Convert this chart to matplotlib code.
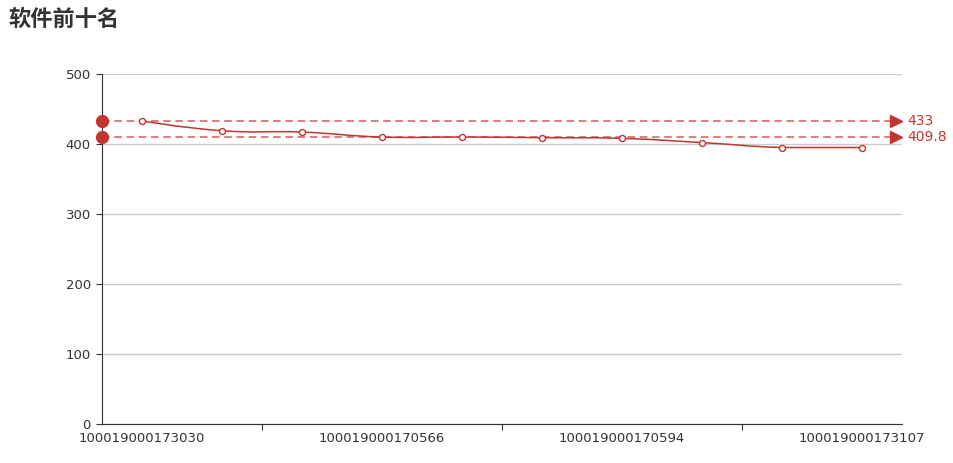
import matplotlib
matplotlib.use("Agg")
import matplotlib.pyplot as plt
import numpy as np
from matplotlib.path import Path
from matplotlib.patches import PathPatch

# data
software_ids = ["100019000173030", "", "", "100019000170566", "", "",
                "100019000170594", "", "", "100019000173107"]
scores = [433, 419, 417, 410, 410, 409, 408, 402, 395, 395]
y_ticks = [0, 100, 200, 300, 400, 500]

red = "#c23531"
dark = "#333333"

plt.rcParams['font.family'] = ['Noto Sans CJK SC', 'DejaVu Sans']

fig = plt.figure(figsize=(9.54, 4.63), dpi=100)
ax = fig.add_axes([102 / 954, 39 / 463, 800 / 954, 350 / 463])

x = np.arange(len(scores))
y = np.array(scores, dtype=float)

# smooth curve, echarts-like bezier (smooth=0.5), control points kept in data range
verts = [(x[0], y[0])]
codes = [Path.MOVETO]
n = len(x)
ymin, ymax = y.min(), y.max()
def ctrl(i):
    prev_i = max(i - 1, 0)
    next_i = min(i + 1, n - 1)
    vx = (x[next_i] - x[prev_i]) * 0.25
    vy = (y[next_i] - y[prev_i]) * 0.25
    a = (x[i] - vx, float(np.clip(y[i] - vy, ymin, ymax)))
    b = (x[i] + vx, float(np.clip(y[i] + vy, ymin, ymax)))
    return a, b
for i in range(n - 1):
    _, c1 = ctrl(i)
    c0, _ = ctrl(i + 1)
    if i == 0:
        c1 = (x[0], y[0])
    if i + 1 == n - 1:
        c0 = (x[n - 1], y[n - 1])
    verts += [c1, c0, (x[i + 1], y[i + 1])]
    codes += [Path.CURVE4] * 3
ax.add_patch(PathPatch(Path(verts, codes), facecolor="none", edgecolor=red, lw=1.1, zorder=3))
ax.plot(x, y, linestyle="none", marker="o", ms=4.3, mfc="white", mec=red, mew=1.0, zorder=4)

# mark lines: max and average
mx = max(scores)
avg = sum(scores) / len(scores)
for val in [mx, avg]:
    ax.plot([-0.5, 9.42], [val, val], color=red, alpha=0.8, lw=1.1,
            linestyle=(0, (5, 3)), clip_on=False, zorder=2)
    ax.plot([-0.5], [val], marker="o", ms=8.5, color=red, mec=red, clip_on=False, zorder=5)
    ax.plot([9.42], [val], marker=">", ms=9, color=red, mec=red, clip_on=False, zorder=5)
    ax.text(9.57, val, "%g" % round(val, 1), color=red, fontsize=10,
            family="DejaVu Sans", va="center", ha="left", clip_on=False)

ax.set_xlim(-0.5, len(scores) - 0.5)
ax.set_ylim(0, 500)
ax.set_yticks(y_ticks)
ax.yaxis.grid(True, color="#cccccc", lw=1)
ax.set_axisbelow(True)

# category ticks at boundaries, labels every 3rd category
ax.set_xticks([1.5, 4.5, 7.5])
ax.set_xticklabels([])
ax.set_xticks([0, 3, 6, 9], minor=True)
ax.set_xticklabels([software_ids[i] for i in [0, 3, 6, 9]], minor=True)
ax.tick_params(axis="x", which="major", length=4, color=dark, direction="out")
ax.tick_params(axis="x", which="minor", length=0, pad=6, labelsize=9.5, labelcolor=dark)
ax.tick_params(axis="y", length=4, color=dark, labelsize=9.5, labelcolor=dark, pad=4)
for lab in ax.get_xticklabels(minor=True) + ax.get_yticklabels():
    lab.set_family("DejaVu Sans")

for s in ["top", "right"]:
    ax.spines[s].set_visible(False)
ax.spines["left"].set_color(dark)
ax.spines["bottom"].set_color(dark)

fig.text(8 / 954, 1 - 19 / 463, "软件前十名", fontsize=16, fontweight="bold",
         color=dark, va="center", ha="left")

fig.savefig("out.png", dpi=100)
